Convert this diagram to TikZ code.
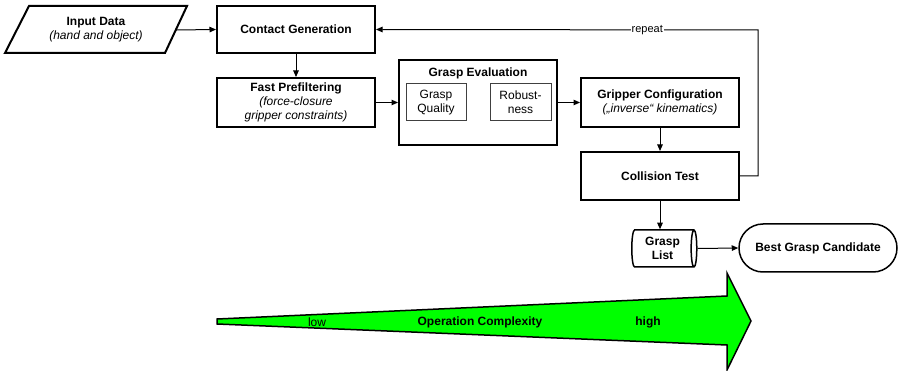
\documentclass[tikz,border=0pt]{standalone}
\usepackage{fontspec}
\setmainfont{Liberation Sans}
\usetikzlibrary{shapes.geometric,arrows.meta}
\definecolor{vgreen}{RGB}{0,255,0}
\begin{document}
\begin{tikzpicture}[x=1pt,y=-1pt,
  font=\fontsize{12}{14}\selectfont,
  mainbox/.style={draw, line width=2pt, minimum width=158pt, minimum height=49pt, inner sep=0pt, align=center},
  innerbox/.style={draw=black!75, line width=1pt, minimum width=60pt, minimum height=37pt, inner sep=0pt, align=center},
  conn/.style={line width=1pt, -{Triangle[length=6.5pt,width=5.5pt]}},
  plain/.style={inner sep=0pt, align=center}
]
\useasboundingbox (0,0) rectangle (899,371);
% input parallelogram
\draw[line width=2pt] (29,6) -- (187,6) -- (165,53) -- (5,53) -- cycle;
\node[plain] (inp) at (96,30) {\textbf{Input Data}\\\textit{(hand and object)}};
\coordinate (inpR) at (176,30);
\node[mainbox, minimum height=47pt] (cg) at (296,29.5) {\textbf{Contact Generation}};
\node[mainbox] (fp) at (296,102.5) {\textbf{Fast Prefiltering}\\\textit{(force-closure}\\\textit{gripper constraints)}};
\node[mainbox, minimum height=85pt] (ge) at (478,102.5) {};
\node[plain] (get) at (478,73) {\textbf{Grasp Evaluation}};
\node[innerbox] (gq) at (436,102.5) {Grasp\\Quality};
\node[innerbox, minimum width=61pt] (rb) at (520.5,102.5) {Robust-\\ness};
\node[mainbox] (gc) at (660,102.5) {\textbf{Gripper Configuration}\\\textit{(„inverse“ kinematics)}};
\node[mainbox, minimum height=48pt] (ct) at (660,176) {\textbf{Collision Test}};
\node[cylinder, draw, line width=1.5pt, minimum height=65pt, minimum width=37pt, shape aspect=0.25, inner sep=0pt, align=center] (gl) at (662.5,248.5) {\textbf{Grasp}\\\textbf{List}};
\node[draw, line width=1.5pt, rounded corners=24pt, minimum width=158pt, minimum height=48pt, inner sep=0pt] (bg) at (818,248) {\textbf{Best Grasp Candidate}};
% connectors
\draw[conn] (inpR) -- (cg.west);
\draw[conn] (cg.south) -- (fp.north);
\draw[conn] (fp.east) -- (ge.west);
\draw[conn] (ge.east) -- (gc.west);
\draw[conn] (gc.south) -- (ct.north);
\draw[conn] (ct.south) -- (ct.south |- gl.north);
\draw[conn] (gl.east) -- (bg.west);
\coordinate (rptc) at (758,30);
\draw[conn] (ct.east) -| (rptc) -- node[pos=0.29, fill=white, inner sep=1pt, font=\fontsize{11}{13}\selectfont] (rpt) {repeat} (cg.east);
% complexity arrow
\filldraw[fill=vgreen, draw=black, line width=1.5pt] (217,319) -- (727,296) -- (727,273) -- (751,321) -- (727,370) -- (727,345) -- (217,324) -- cycle;
\node[plain] (lo) at (317,322) {low};
\node[plain] (oc) at (480,322) {\textbf{Operation Complexity}};
\node[plain] (hi) at (648,322) {\textbf{high}};
\end{tikzpicture}
\end{document}
